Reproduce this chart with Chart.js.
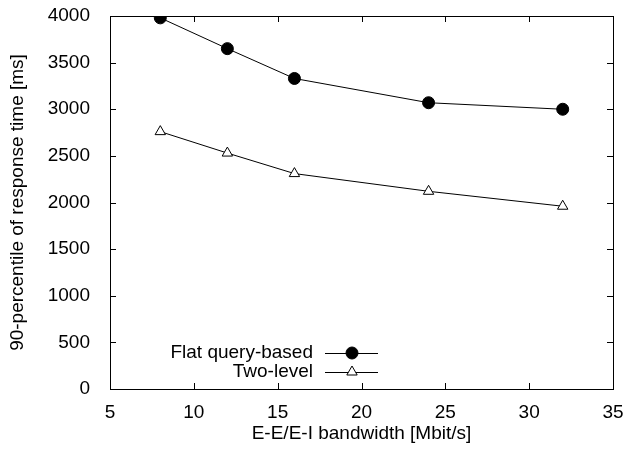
<!DOCTYPE html>
<html>
<head>
<meta charset="utf-8">
<script src="https://cdn.jsdelivr.net/npm/chart.js@4/dist/chart.umd.min.js"></script>
<style>
  html, body { margin: 0; padding: 0; background: #fff; }
  #wrap { width: 627px; height: 450px; }
</style>
</head>
<body>
<div id="wrap"><canvas id="respChart" width="627" height="450"></canvas></div>
<script>
// bandwidth values (Mbit/s) and 90-percentile response times (ms)
const bandwidth = [8, 12, 16, 24, 32];
const flatQuery = [3980, 3650, 3330, 3070, 3000];
const twoLevel = [2760, 2530, 2310, 2120, 1960];
const seriesNames = ['Flat query-based', 'Two-level'];

const FONT = 'Liberation Sans, Arial, Helvetica, sans-serif';
const FONT_SIZE = 19;

function toPoints(xs, ys) {
    return xs.map((x, i) => ({ x: x, y: ys[i] }));
}

// gnuplot-style frame: box around the plot with inward ticks on all sides
const framePlugin = {
    id: 'frame',
    afterDatasetsDraw(chart) {
        const ctx = chart.ctx;
        const a = chart.chartArea;
        const xs = chart.scales.x, ys = chart.scales.y;
        const len = 6;
        ctx.save();
        ctx.strokeStyle = '#000';
        ctx.lineWidth = 1;
        ctx.beginPath();
        xs.ticks.forEach(t => {
            const px = Math.round(xs.getPixelForValue(t.value)) + 0.5;
            ctx.moveTo(px, a.bottom); ctx.lineTo(px, a.bottom - len);
            ctx.moveTo(px, a.top); ctx.lineTo(px, a.top + len);
        });
        ys.ticks.forEach(t => {
            const py = Math.round(ys.getPixelForValue(t.value)) + 0.5;
            ctx.moveTo(a.left, py); ctx.lineTo(a.left + len, py);
            ctx.moveTo(a.right, py); ctx.lineTo(a.right - len, py);
        });
        ctx.stroke();
        ctx.strokeRect(Math.round(a.left) + 0.5, Math.round(a.top) + 0.5,
            Math.round(a.right - a.left), Math.round(a.bottom - a.top));
        ctx.restore();
    }
};

// key in the lower part of the plot: label text, then a line sample with the marker
const keyPlugin = {
    id: 'key',
    afterDraw(chart) {
        const ctx = chart.ctx;
        const textRight = 313, lineL = 325, lineR = 378, markX = 352;
        const rows = [353, 372];
        ctx.save();
        ctx.font = FONT_SIZE + 'px ' + FONT;
        ctx.textAlign = 'right';
        ctx.textBaseline = 'middle';
        chart.data.datasets.forEach((ds, i) => {
            const y = rows[i];
            ctx.fillStyle = '#000';
            ctx.fillText(ds.label, textRight, y);
            ctx.strokeStyle = '#000';
            ctx.lineWidth = 1;
            ctx.beginPath();
            ctx.moveTo(lineL, y + 0.5);
            ctx.lineTo(lineR, y + 0.5);
            ctx.stroke();
            // drawPoint uses the current fill/stroke styles
            ctx.fillStyle = ds.pointBackgroundColor;
            ctx.strokeStyle = ds.pointBorderColor;
            Chart.helpers.drawPoint(ctx, {
                pointStyle: ds.pointStyle,
                radius: ds.pointRadius,
                borderWidth: 1,
                rotation: 0
            }, markX, y);
        });
        ctx.restore();
    }
};

const ctx = document.getElementById('respChart').getContext('2d');
new Chart(ctx, {
    type: 'scatter',
    data: {
        datasets: [{
            label: seriesNames[0],
            data: toPoints(bandwidth, flatQuery),
            showLine: true,
            borderColor: '#000',
            borderWidth: 1,
            pointStyle: 'circle',
            pointRadius: 6,
            pointBackgroundColor: '#000',
            pointBorderColor: '#000',
            pointBorderWidth: 1
        }, {
            label: seriesNames[1],
            data: toPoints(bandwidth, twoLevel),
            showLine: true,
            borderColor: '#000',
            borderWidth: 1,
            pointStyle: 'triangle',
            pointRadius: 6,
            pointBackgroundColor: '#fff',
            pointBorderColor: '#000',
            pointBorderWidth: 1
        }]
    },
    options: {
        responsive: false,
        animation: false,
        layout: { padding: { left: 0, right: 14, top: 16, bottom: 0 } },
        plugins: {
            legend: { display: false },
            tooltip: { enabled: false }
        },
        scales: {
            x: {
                type: 'linear',
                min: 5,
                max: 35,
                grid: { display: false },
                border: { display: false },
                ticks: {
                    stepSize: 5,
                    padding: 4,
                    color: '#000',
                    maxRotation: 0,
                    font: { family: FONT, size: FONT_SIZE },
                    callback: v => String(v)
                },
                title: {
                    display: true,
                    text: 'E-E/E-I bandwidth [Mbit/s]',
                    color: '#000',
                    padding: { top: 4, bottom: 5 },
                    font: { family: FONT, size: FONT_SIZE }
                },
                afterFit(scale) {
                    scale.height = 61;
                    scale.paddingLeft = 0;
                    scale.paddingRight = 0;
                }
            },
            y: {
                min: 0,
                max: 4000,
                grid: { display: false },
                border: { display: false },
                ticks: {
                    stepSize: 500,
                    padding: 12,
                    color: '#000',
                    font: { family: FONT, size: FONT_SIZE },
                    callback: v => String(v)
                },
                title: {
                    display: true,
                    text: '90-percentile of response time [ms]',
                    color: '#000',
                    padding: { top: 6, bottom: 4 },
                    font: { family: FONT, size: FONT_SIZE }
                },
                afterFit(scale) {
                    scale.width = 110;
                    scale.paddingTop = 0;
                    scale.paddingBottom = 0;
                }
            }
        }
    },
    plugins: [framePlugin, keyPlugin]
});
</script>
</body>
</html>
